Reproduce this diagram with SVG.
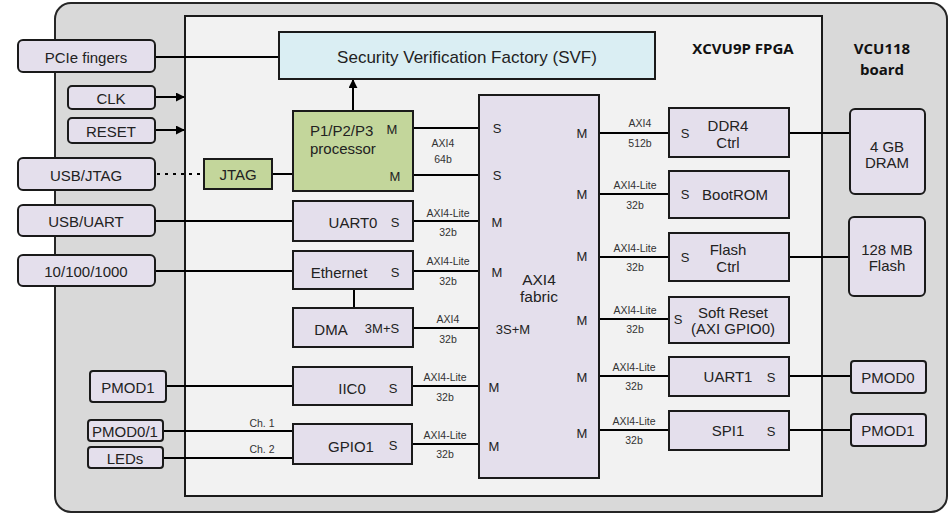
<svg xmlns="http://www.w3.org/2000/svg" width="951" height="514" viewBox="0 0 951 514">
<defs>
<style>
.board{fill:#d9d9d9;stroke:#262626;stroke-width:2}
.fpga{fill:#f2f2f2;stroke:#1a1a1a;stroke-width:2}
.blk{fill:#e4dfec;stroke:#1a1a1a;stroke-width:2}
.ext{fill:#e4dfec;stroke:#1a1a1a;stroke-width:2}
.svf{fill:#daeef3;stroke:#1a1a1a;stroke-width:2}
.grn{fill:#c3d69b;stroke:#1a1a1a;stroke-width:2}
.ln{stroke:#000;stroke-width:2;fill:none}
.dot{stroke:#000;stroke-width:2;fill:none;stroke-dasharray:3 5}
text{font-family:"Liberation Sans",Arial,sans-serif;fill:#222;text-anchor:middle;dominant-baseline:central}
.t15{font-size:15px}
.t17{font-size:17px}
.t16{font-size:15.5px}
.st{text-anchor:start}
.sm{font-size:10.5px;fill:#333}
.ms{font-size:13px}
.bold{font-family:"Open Sans","Liberation Sans",sans-serif;font-weight:bold;font-size:15px;fill:#111}
</style>
<marker id="arr" viewBox="0 0 10 10" refX="9" refY="5" markerWidth="4.5" markerHeight="4.5" orient="auto">
<path d="M0,0 L10,5 L0,10 z" fill="#000"/>
</marker>
</defs>

<g id="board">
<rect class="board" x="55" y="3" width="892" height="509" rx="16"/>
<text class="bold" x="882" y="48">VCU118</text>
<text class="bold" x="882" y="69">board</text>
</g>
<g id="fpga">
<rect class="fpga" x="185" y="16" width="637" height="480"/>
<text class="bold" x="743" y="48">XCVU9P FPGA</text>
</g>

<g id="connectors">
<line class="ln" x1="155" y1="57" x2="279" y2="57"/>
<line class="ln" x1="155" y1="97" x2="184" y2="97" marker-end="url(#arr)"/>
<line class="ln" x1="155" y1="130" x2="184" y2="130" marker-end="url(#arr)"/>
<line class="dot" x1="157" y1="174" x2="204" y2="174"/>
<line class="ln" x1="272" y1="174" x2="293" y2="174"/>
<line class="ln" x1="353" y1="111" x2="353" y2="80" marker-end="url(#arr)"/>
<line class="ln" x1="413" y1="128" x2="479" y2="128"/>
<line class="ln" x1="413" y1="175" x2="479" y2="175"/>
<line class="ln" x1="155" y1="221" x2="293" y2="221"/>
<line class="ln" x1="413" y1="221" x2="479" y2="221"/>
<line class="ln" x1="155" y1="271" x2="293" y2="271"/>
<line class="ln" x1="413" y1="271" x2="479" y2="271"/>
<line class="ln" x1="354" y1="289" x2="354" y2="308"/>
<line class="ln" x1="413" y1="328" x2="479" y2="328"/>
<line class="ln" x1="166" y1="386" x2="293" y2="386"/>
<line class="ln" x1="412" y1="386" x2="479" y2="386"/>
<line class="ln" x1="163" y1="431" x2="293" y2="431"/>
<line class="ln" x1="163" y1="458" x2="293" y2="458"/>
<line class="ln" x1="412" y1="444" x2="479" y2="444"/>
<line class="ln" x1="599" y1="133" x2="669" y2="133"/>
<line class="ln" x1="789" y1="133" x2="850" y2="133"/>
<line class="ln" x1="599" y1="194" x2="669" y2="194"/>
<line class="ln" x1="599" y1="257" x2="669" y2="257"/>
<line class="ln" x1="789" y1="257" x2="849" y2="257"/>
<line class="ln" x1="599" y1="319" x2="669" y2="319"/>
<line class="ln" x1="599" y1="376" x2="669" y2="376"/>
<line class="ln" x1="789" y1="376" x2="851" y2="376"/>
<line class="ln" x1="599" y1="430" x2="669" y2="430"/>
<line class="ln" x1="789" y1="430" x2="851" y2="430"/>
<text class="sm" x="443" y="143">AXI4</text>
<text class="sm" x="443" y="159">64b</text>
<text class="sm" x="448" y="213">AXI4-Lite</text>
<text class="sm" x="448" y="232">32b</text>
<text class="sm" x="448" y="261">AXI4-Lite</text>
<text class="sm" x="448" y="281">32b</text>
<text class="sm" x="448" y="319">AXI4</text>
<text class="sm" x="448" y="339">32b</text>
<text class="sm" x="445" y="377">AXI4-Lite</text>
<text class="sm" x="445" y="397">32b</text>
<text class="sm" x="445" y="435">AXI4-Lite</text>
<text class="sm" x="445" y="454">32b</text>
<text class="sm" x="262" y="423">Ch. 1</text>
<text class="sm" x="262" y="449">Ch. 2</text>
<text class="sm" x="640" y="123">AXI4</text>
<text class="sm" x="640" y="143">512b</text>
<text class="sm" x="635" y="185">AXI4-Lite</text>
<text class="sm" x="635" y="205">32b</text>
<text class="sm" x="635" y="248">AXI4-Lite</text>
<text class="sm" x="635" y="267">32b</text>
<text class="sm" x="635" y="310">AXI4-Lite</text>
<text class="sm" x="635" y="329">32b</text>
<text class="sm" x="634" y="367">AXI4-Lite</text>
<text class="sm" x="634" y="386">32b</text>
<text class="sm" x="634" y="421">AXI4-Lite</text>
<text class="sm" x="634" y="440">32b</text>
</g>

<g id="svf">
<rect class="svf" x="279" y="32" width="376" height="47"/>
<text class="t17" x="467" y="57">Security Verification Factory (SVF)</text>
</g>
<g id="pcie">
<rect class="ext" x="18" y="40" width="137" height="32" rx="5"/>
<text class="t15" x="86" y="57">PCIe fingers</text>
</g>
<g id="clk">
<rect class="ext" x="68" y="86" width="87" height="23" rx="4"/>
<text class="t15" x="111" y="98">CLK</text>
</g>
<g id="reset">
<rect class="ext" x="68" y="118" width="87" height="25" rx="4"/>
<text class="t15" x="111" y="131">RESET</text>
</g>
<g id="usbjtag">
<rect class="ext" x="18" y="158" width="137" height="32" rx="5"/>
<text class="t15" x="86" y="175">USB/JTAG</text>
</g>
<g id="jtag">
<rect class="grn" x="204" y="159" width="68" height="30"/>
<text class="t15" x="238" y="174">JTAG</text>
</g>
<g id="processor">
<rect class="grn" x="293" y="111" width="120" height="80"/>
<text class="t15 st" x="310" y="130">P1/P2/P3</text>
<text class="t15 st" x="310" y="148">processor</text>
<text class="ms" x="392" y="129">M</text>
<text class="ms" x="395" y="176">M</text>
</g>
<g id="fabric">
<rect class="blk" x="479" y="95" width="120" height="383"/>
<text class="ms" x="497" y="128">S</text>
<text class="ms" x="497" y="175">S</text>
<text class="ms" x="497" y="222">M</text>
<text class="ms" x="497" y="272">M</text>
<text class="ms" x="513" y="329">3S+M</text>
<text class="ms" x="494" y="387">M</text>
<text class="ms" x="494" y="446">M</text>
<text class="ms" x="582" y="133">M</text>
<text class="ms" x="582" y="194">M</text>
<text class="ms" x="582" y="256">M</text>
<text class="ms" x="582" y="320">M</text>
<text class="ms" x="582" y="377">M</text>
<text class="ms" x="582" y="433">M</text>
<text class="t16" x="539" y="279">AXI4</text>
<text class="t16" x="539" y="296">fabric</text>
</g>
<g id="usbuart">
<rect class="ext" x="18" y="205" width="137" height="31" rx="5"/>
<text class="t15" x="86" y="221">USB/UART</text>
</g>
<g id="uart0">
<rect class="blk" x="293" y="201" width="120" height="40"/>
<text class="t15" x="353" y="222">UART0</text>
<text class="ms" x="395" y="222">S</text>
</g>
<g id="eth10">
<rect class="ext" x="18" y="255" width="137" height="31" rx="5"/>
<text class="t15" x="86" y="271">10/100/1000</text>
</g>
<g id="ethernet">
<rect class="blk" x="293" y="251" width="120" height="38"/>
<text class="t15" x="339" y="272">Ethernet</text>
<text class="ms" x="395" y="272">S</text>
</g>
<g id="dma">
<rect class="blk" x="293" y="308" width="120" height="39"/>
<text class="t15" x="331" y="329">DMA</text>
<text class="ms" x="382" y="328">3M+S</text>
</g>
<g id="pmod1l">
<rect class="ext" x="90" y="371" width="76" height="31" rx="3"/>
<text class="t15" x="128" y="387">PMOD1</text>
</g>
<g id="iic0">
<rect class="blk" x="293" y="367" width="119" height="38"/>
<text class="t15" x="352" y="388">IIC0</text>
<text class="ms" x="393" y="388">S</text>
</g>
<g id="pmod01">
<rect class="ext" x="88" y="420" width="75" height="21" rx="3"/>
<text class="t15" x="125" y="431">PMOD0/1</text>
</g>
<g id="leds">
<rect class="ext" x="88" y="447" width="75" height="21" rx="3"/>
<text class="t15" x="125" y="458">LEDs</text>
</g>
<g id="gpio1">
<rect class="blk" x="293" y="424" width="119" height="40"/>
<text class="t15" x="351" y="446">GPIO1</text>
<text class="ms" x="393" y="445">S</text>
</g>
<g id="ddr4">
<rect class="blk" x="669" y="108" width="120" height="49"/>
<text class="ms" x="685" y="133">S</text>
<text class="t15" x="728" y="125">DDR4</text>
<text class="t15" x="728" y="142">Ctrl</text>
</g>
<g id="dram">
<rect class="ext" x="850" y="109" width="75" height="85" rx="5"/>
<text class="t15" x="887" y="146">4 GB</text>
<text class="t15" x="887" y="162">DRAM</text>
</g>
<g id="bootrom">
<rect class="blk" x="669" y="171" width="120" height="47"/>
<text class="ms" x="685" y="194">S</text>
<text class="t15" x="735" y="194">BootROM</text>
</g>
<g id="flashctrl">
<rect class="blk" x="669" y="233" width="120" height="48"/>
<text class="ms" x="685" y="257">S</text>
<text class="t15" x="728" y="249">Flash</text>
<text class="t15" x="728" y="266">Ctrl</text>
</g>
<g id="flash">
<rect class="ext" x="849" y="217" width="76" height="79" rx="5"/>
<text class="t15" x="887" y="249">128 MB</text>
<text class="t15" x="887" y="265">Flash</text>
</g>
<g id="softreset">
<rect class="blk" x="669" y="297" width="120" height="46"/>
<text class="ms" x="678" y="319">S</text>
<text class="t15" x="733" y="312">Soft Reset</text>
<text class="t15" x="733" y="328">(AXI GPIO0)</text>
</g>
<g id="uart1">
<rect class="blk" x="669" y="357" width="120" height="39"/>
<text class="t15" x="728" y="376">UART1</text>
<text class="ms" x="771" y="377">S</text>
</g>
<g id="pmod0r">
<rect class="ext" x="851" y="361" width="75" height="32" rx="3"/>
<text class="t15" x="888" y="377">PMOD0</text>
</g>
<g id="spi1">
<rect class="blk" x="669" y="411" width="120" height="39"/>
<text class="t15" x="728" y="430">SPI1</text>
<text class="ms" x="771" y="431">S</text>
</g>
<g id="pmod1r">
<rect class="ext" x="851" y="414" width="75" height="32" rx="3"/>
<text class="t15" x="888" y="430">PMOD1</text>
</g>
</svg>
